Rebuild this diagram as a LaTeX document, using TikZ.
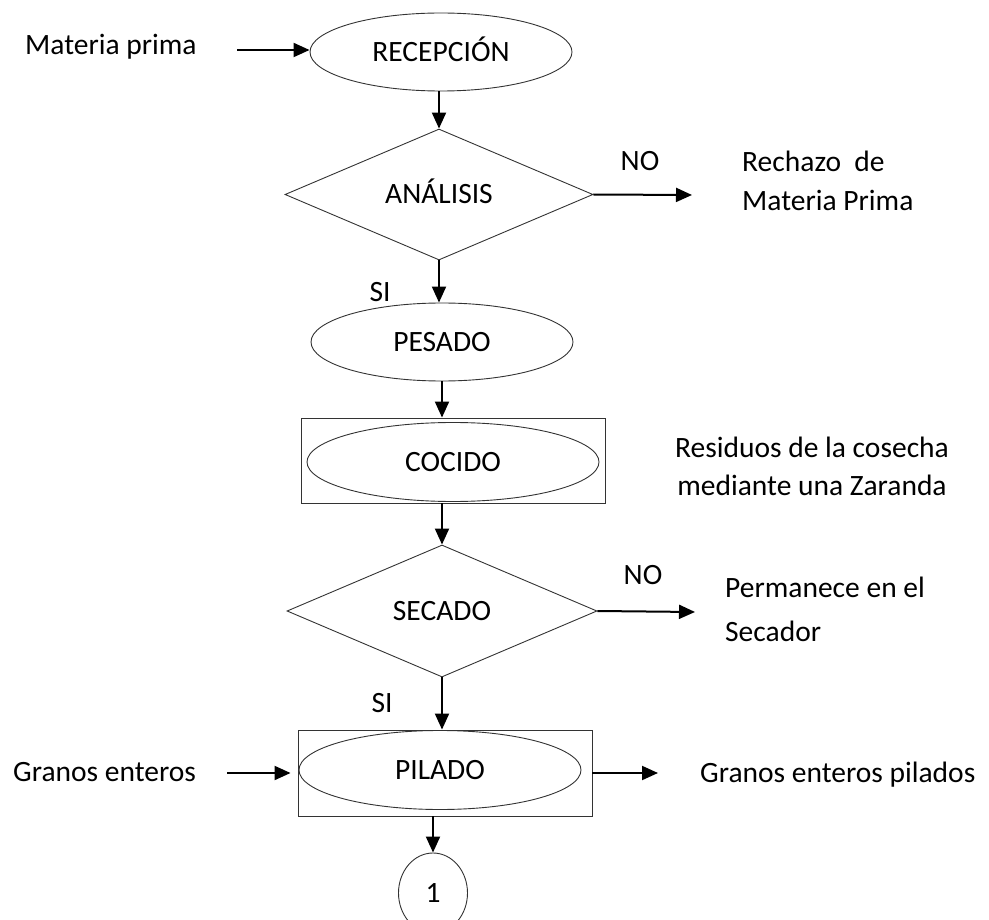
\documentclass[tikz,border=0pt]{standalone}
\usepackage{fontspec}
\setmainfont{Carlito}
\usetikzlibrary{shapes.geometric,arrows.meta}
\begin{document}
\begin{tikzpicture}[x=1pt,y=-1pt,
  every node/.style={font=\fontsize{29.5}{35}\selectfont, inner sep=0pt},
  outline/.style={draw=black!80, line width=0.9pt},
  inshape/.style={text height=18.7pt, text depth=0pt},
  proc/.style={ellipse, outline, inshape},
  decide/.style={diamond, outline, inshape},
  frame/.style={rectangle, outline},
  arr/.style={line width=2pt, -{Triangle[length=16pt,width=14pt]}},
  lbl/.style={anchor=base},
  lbll/.style={anchor=base west}]

\path[use as bounding box, clip] (0,0) rectangle (989,920);

% main column
\node[proc, minimum width=262pt, minimum height=78pt] (rec) at (441,52) {RECEPCIÓN};
\node[decide, minimum width=308pt, minimum height=131pt] (ana) at (439,194.5) {ANÁLISIS};
\node[proc, minimum width=262pt, minimum height=78pt] (pes) at (442,342) {PESADO};
\node[frame, minimum width=304pt, minimum height=85pt] (cocbox) at (453,460.5) {};
\node[proc, minimum width=292pt, minimum height=79pt] (coc) at (453,462) {COCIDO};
\node[decide, minimum width=310pt, minimum height=132pt] (sec) at (442,611) {SECADO};
\node[frame, minimum width=294pt, minimum height=86pt] (pilbox) at (445,773) {};
\node[proc, minimum width=282pt, minimum height=79pt] (pil) at (440,770) {PILADO};
\node[proc, minimum width=69pt, minimum height=80pt] (one) at (433,893) {1};

% side texts
\node[lbll] (mp) at (25,55) {Materia prima};
\node[lbl] (no1) at (640,171) {NO};
\node[lbll] (rech1) at (742,172) {Rechazo~ de};
\node[lbll] (rech2) at (742,211) {Materia Prima};
\node[lbl] (si1) at (380,302) {SI};
\node[lbl] (res1) at (812,457) {Residuos de la cosecha};
\node[lbl] (res2) at (812,495) {mediante una Zaranda};
\node[lbl] (no2) at (643,584) {NO};
\node[lbll] (perm1) at (725,597) {Permanece en el};
\node[lbll] (perm2) at (725,641) {Secador};
\node[lbl] (si2) at (382,712) {SI};
\node[lbll] (ge) at (13,781) {Granos enteros};
\node[lbll] (gep) at (700,782) {Granos enteros pilados};

% free ends of the side arrows
\coordinate (mpa) at (237,50);
\coordinate (noa) at (692,195);
\coordinate (nob) at (695,612);
\coordinate (gea) at (227,773);
\coordinate (gepa) at (658,773);

% connectors
\draw[arr] (mpa) -- (mpa -| rec.west);
\draw[arr] (ana.north |- rec.south) -- (ana.north);
\draw[arr] (ana.east) -- (noa);
\draw[arr] (ana.south) -- (ana.south |- pes.north);
\draw[arr] (pes.south) -- (pes.south |- cocbox.north);
\draw[arr] (sec.north |- cocbox.south) -- (sec.north);
\draw[arr] (sec.east) -- (nob);
\draw[arr] (sec.south) -- (sec.south |- pilbox.north);
\draw[arr, shorten >=7pt] (gea) -- (gea -| pilbox.west);
\draw[arr] (gepa -| pilbox.east) -- (gepa);
\draw[arr] (one.north |- pilbox.south) -- (one.north);
\end{tikzpicture}
\end{document}
